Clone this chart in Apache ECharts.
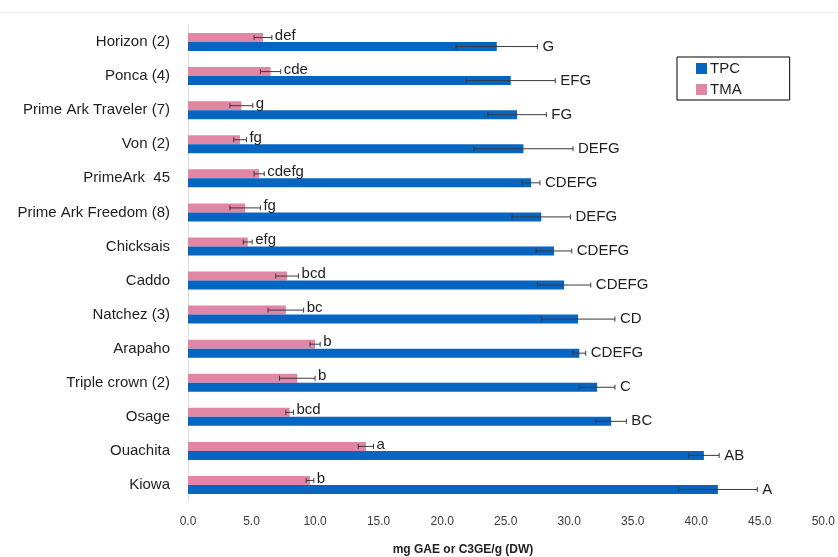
<!DOCTYPE html>
<html>
<head>
<meta charset="utf-8">
<script src="https://cdn.jsdelivr.net/npm/echarts@6/dist/echarts.min.js"></script>
<style>
  html, body { margin: 0; padding: 0; background: #ffffff; }
  #chart { width: 838px; height: 557px; }
</style>
</head>
<body>
<div id="chart"></div>
<script>
// Cultivars, listed top to bottom
const cultivars = ['Horizon (2)', 'Ponca (4)', 'Prime Ark Traveler (7)', 'Von (2)', 'PrimeArk  45',
  'Prime Ark Freedom (8)', 'Chicksais', 'Caddo', 'Natchez (3)', 'Arapaho', 'Triple crown (2)',
  'Osage', 'Ouachita', 'Kiowa'];

// Total phenolic content (mg GAE/g DW), its error and significance groups
const tpc = [24.3, 25.4, 25.9, 26.4, 27.0, 27.8, 28.8, 29.6, 30.7, 30.8, 32.2, 33.3, 40.6, 41.7];
const tpcErr = [3.2, 3.5, 2.3, 3.9, 0.7, 2.3, 1.4, 2.1, 2.9, 0.5, 1.4, 1.2, 1.2, 3.1];
const tpcGroups = ['G', 'EFG', 'FG', 'DEFG', 'CDEFG', 'DEFG', 'CDEFG', 'CDEFG', 'CD', 'CDEFG', 'C', 'BC', 'AB', 'A'];

// Total monomeric anthocyanins (mg C3GE/g DW), its error and significance groups
const tma = [5.9, 6.5, 4.2, 4.1, 5.6, 4.5, 4.7, 7.8, 7.7, 10.0, 8.6, 8.0, 14.0, 9.6];
const tmaErr = [0.7, 0.8, 0.9, 0.5, 0.4, 1.2, 0.35, 0.9, 1.4, 0.4, 1.4, 0.3, 0.6, 0.3];
const tmaGroups = ['def', 'cde', 'g', 'fg', 'cdefg', 'fg', 'efg', 'bcd', 'bc', 'b', 'b', 'bcd', 'a', 'b'];

// x-axis range
const xMin = 0, xMax = 50, xStep = 5;

const BLUE = '#0665c1';
const PINK = '#e286a6';
const FONT = 'Liberation Sans, Arial, sans-serif';
const BAR_W = 9;

// Two-sided error bar with the group letters to its right
function errorBars(name, values, errs, letters, offset, textGap, textDy) {
  return {
    type: 'custom',
    name: name + ' error',
    silent: true,
    z: 5,
    data: values.map((v, i) => [v, i, errs[i]]),
    encode: { x: 0, y: 1 },
    renderItem(params, api) {
      const v = api.value(0), i = api.value(1), e = api.value(2);
      const lo = api.coord([v - e, i]);
      const hi = api.coord([v + e, i]);
      const y = lo[1] + offset;
      const cap = 2.5;
      const st = { stroke: '#3a3a3a', lineWidth: 1 };
      return {
        type: 'group',
        children: [
          { type: 'line', shape: { x1: lo[0], y1: y, x2: hi[0], y2: y }, style: st },
          { type: 'line', shape: { x1: lo[0], y1: y - cap, x2: lo[0], y2: y + cap }, style: st },
          { type: 'line', shape: { x1: hi[0], y1: y - cap, x2: hi[0], y2: y + cap }, style: st },
          {
            type: 'text', x: hi[0] + textGap, y: y + textDy,
            style: {
              text: letters[params.dataIndex], fill: '#1e1e1e',
              font: '15px ' + FONT, verticalAlign: 'middle', align: 'left'
            }
          }
        ]
      };
    }
  };
}

const chart = echarts.init(document.getElementById('chart'), null, { renderer: 'canvas' });

chart.setOption({
  backgroundColor: '#ffffff',
  animation: false,
  grid: { left: 188, right: 12.5, top: 25, bottom: 55, containLabel: false },
  legend: {
    data: ['TPC', 'TMA'],
    orient: 'vertical',
    left: 677, top: 57,
    padding: [4, 48, 3, 19],
    itemGap: 6,
    itemWidth: 11, itemHeight: 11,
    icon: 'rect',
    borderColor: '#000000', borderWidth: 1,
    textStyle: { fontFamily: FONT, fontSize: 15, color: '#1e1e1e', padding: [0, 0, 0, -2] }
  },
  xAxis: {
    type: 'value',
    min: xMin, max: xMax, interval: xStep,
    axisLine: { show: false },
    axisTick: { show: false },
    splitLine: { show: false },
    axisLabel: {
      formatter: v => v.toFixed(1),
      fontFamily: FONT, fontSize: 12, color: '#3a3a3a', margin: 14
    }
  },
  yAxis: {
    type: 'category',
    data: cultivars,
    inverse: true,
    axisLine: { show: true, lineStyle: { color: '#dcdcdc', width: 1 } },
    axisTick: { show: false },
    axisLabel: { fontFamily: FONT, fontSize: 15, color: '#1e1e1e', margin: 18 }
  },
  series: [
    { type: 'bar', name: 'TMA', data: tma, barWidth: BAR_W, barGap: '0%', itemStyle: { color: PINK } },
    { type: 'bar', name: 'TPC', data: tpc, barWidth: BAR_W, barGap: '0%', itemStyle: { color: BLUE } },
    errorBars('TMA', tma, tmaErr, tmaGroups, -4.5, 3, -2),
    errorBars('TPC', tpc, tpcErr, tpcGroups, 4.5, 5, 0)
  ],
  graphic: [
    { type: 'line', shape: { x1: 0, y1: 12.5, x2: 838, y2: 12.5 }, style: { stroke: '#ebebeb', lineWidth: 1 }, silent: true },
    {
      type: 'text', x: 463, y: 550,
      style: {
        text: 'mg GAE or C3GE/g (DW)', font: 'bold 12px ' + FONT, fill: '#1e1e1e',
        align: 'center', verticalAlign: 'middle'
      }
    }
  ]
});
</script>
</body>
</html>
